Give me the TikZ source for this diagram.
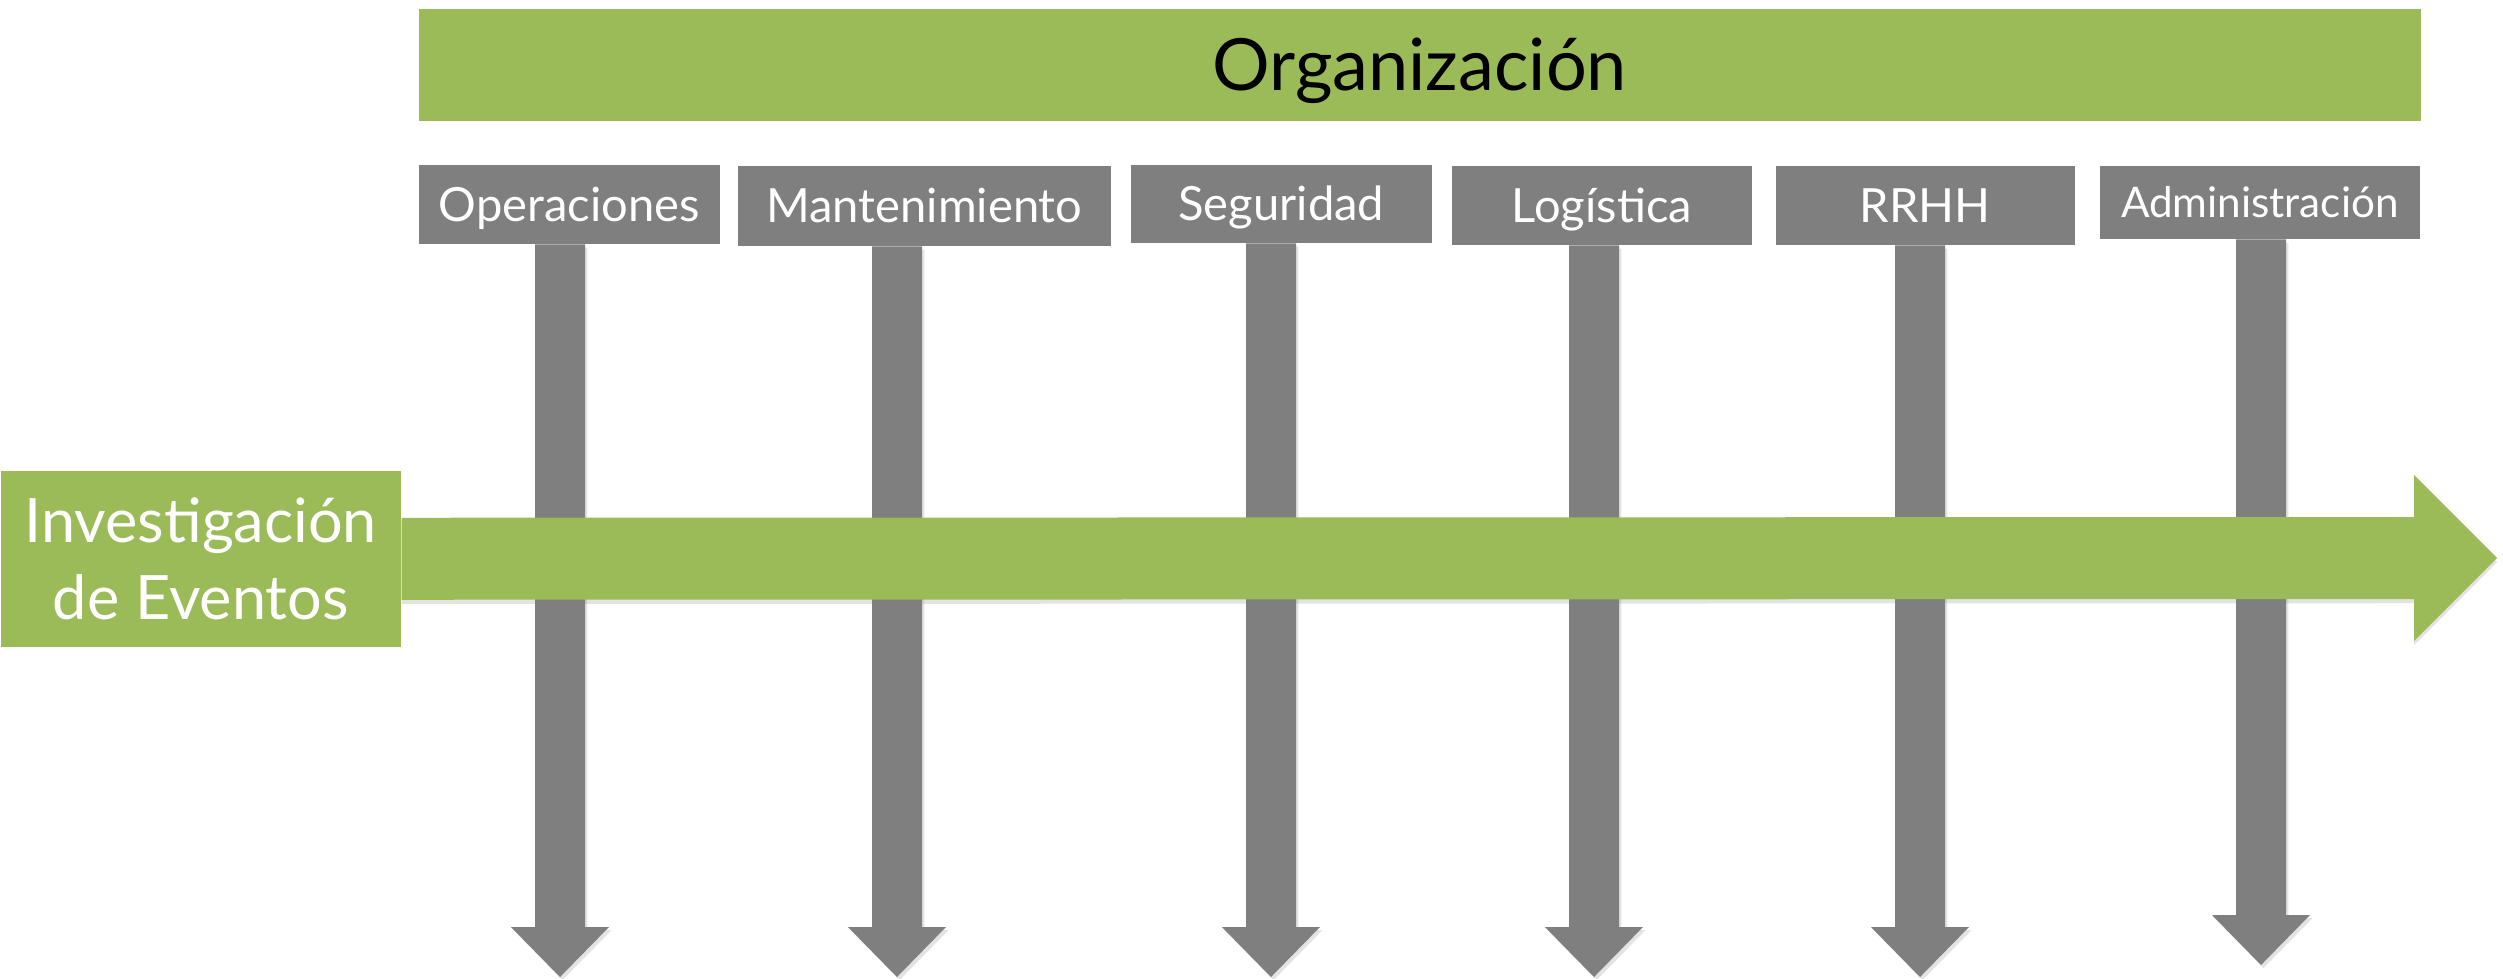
\documentclass[tikz,border=0pt]{standalone}
\usepackage{fontspec}
\setmainfont{Lato}
\usetikzlibrary{calc,shadows,backgrounds}
\definecolor{grn}{HTML}{9BBB59}
\definecolor{gry}{HTML}{7F7F7F}
\newcommand\grayarrow[2]{%
  \fill[garrow] ($(#1)+(-25,0)$) -- ($(#2)+(-25,-50)$) -- ($(#2)+(-49,-50)$) -- (#2)
    -- ($(#2)+(49,-50)$) -- ($(#2)+(25,-50)$) -- ($(#1)+(25,0)$) -- cycle;}
\begin{document}
\begin{tikzpicture}[x=0.01cm,y=-0.01cm,
  catbox/.style={fill=gry, inner sep=0, anchor=north west, text=white,
    font=\fontsize{13.4}{16}\selectfont, text height=0.34cm, text depth=0pt},
  garrow/.style={fill=gry, drop shadow={opacity=0.22, shadow xshift=0.7pt, shadow yshift=-0.9pt}},
  grarrow/.style={fill=grn, drop shadow={opacity=0.22, shadow xshift=0pt, shadow yshift=-1.2pt}},
  topbar/.style={fill=grn, inner sep=0, anchor=north west, text=black,
    font=\fontsize{20.5}{24}\selectfont, text height=0.52cm, text depth=0pt},
  sidebox/.style={fill=grn, inner sep=0, anchor=north west, text=white, align=center,
    font=\fontsize{17.4}{21.9}\selectfont},
]
\useasboundingbox (0,0) rectangle (2503,978);
% category boxes
\node[catbox, minimum width=3.01cm, minimum height=0.79cm] (op)   at (418,164)  {Operaciones};
\node[catbox, minimum width=3.73cm, minimum height=0.80cm] (mant) at (737,165)  {Mantenimiento};
\node[catbox, minimum width=3.01cm, minimum height=0.78cm] (seg)  at (1130,164) {Seguridad};
\node[catbox, minimum width=3.00cm, minimum height=0.79cm] (log)  at (1451,165) {Logística};
\node[catbox, minimum width=2.99cm, minimum height=0.79cm] (rrhh) at (1775,165) {RRHH};
\node[catbox, minimum width=3.20cm, minimum height=0.73cm, font=\fontsize{12}{14}\selectfont, text height=0.30cm] (adm) at (2099,165) {Administración};
% arrow end points
\coordinate (opT)   at (op.south -| 560,0);   \coordinate (opB)   at (560,977);
\coordinate (mantT) at (mant.south -| 897,0); \coordinate (mantB) at (897,977);
\coordinate (segT)  at (seg.south -| 1271,0); \coordinate (segB)  at (1271,977);
\coordinate (logT)  at (log.south -| 1594,0); \coordinate (logB)  at (1594,977);
\coordinate (rrhhT) at (rrhh.south -| 1920,0);\coordinate (rrhhB) at (1920,977);
\coordinate (admT)  at (adm.south -| 2261,0); \coordinate (admB)  at (2261,965);
\begin{pgfonlayer}{background}
\grayarrow{opT}{opB}
\grayarrow{mantT}{mantB}
\grayarrow{segT}{segB}
\grayarrow{logT}{logB}
\grayarrow{rrhhT}{rrhhB}
\grayarrow{admT}{admB}
\end{pgfonlayer}
% top bar
\node[topbar, minimum width=20.01cm, minimum height=1.12cm] (org) at (418,8) {Organización};
% side box and main arrow
\node[sidebox, minimum width=4.00cm, minimum height=1.76cm] (inv) at (0,470) {Investigación\\de Eventos};
\coordinate (gtip) at (2497,558);
\fill[grarrow] ($(inv.east)+(0,-41)$) -- ($(gtip)+(-83,-41)$) -- ($(gtip)+(-83,-83)$) -- (gtip)
  -- ($(gtip)+(-83,83)$) -- ($(gtip)+(-83,41)$) -- ($(inv.east)+(0,41)$) -- cycle;
\end{tikzpicture}
\end{document}
